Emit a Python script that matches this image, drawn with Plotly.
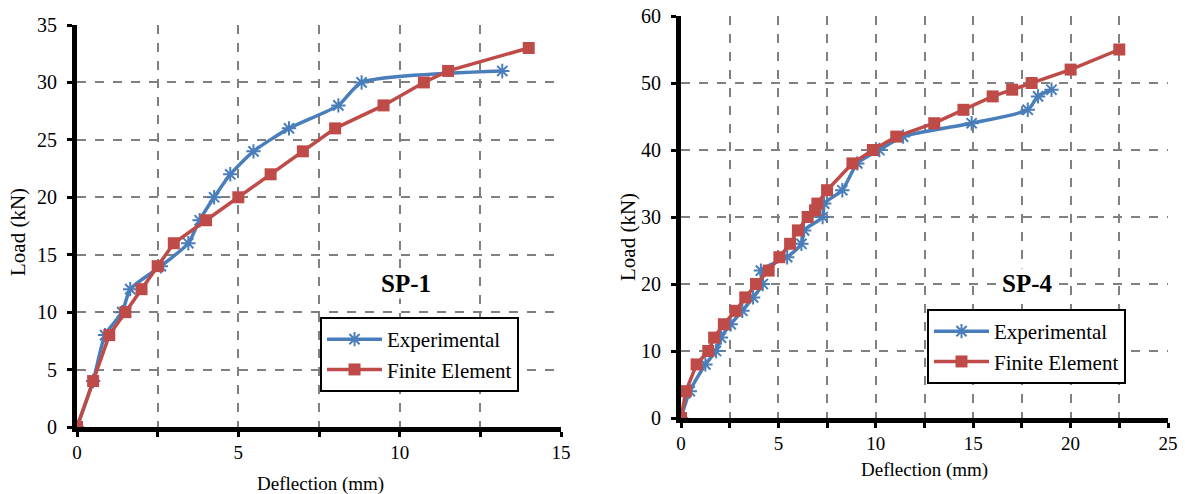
import plotly.graph_objects as go

# SP-1 data
sp1_exp_x = [0, 0.5, 0.87, 1.4, 1.65, 2.6, 3.45, 3.8, 4.25, 4.75, 5.47, 6.57, 8.1, 8.82, 13.18]
sp1_exp_y = [0, 4, 8, 10, 12, 14, 16, 18, 20, 22, 24, 26, 28, 30, 31]
sp1_fe_x = [0, 0.5, 1, 1.5, 2, 2.5, 3, 4, 5, 6, 7, 8, 9.5, 10.75, 11.5, 14]
sp1_fe_y = [0, 4, 8, 10, 12, 14, 16, 18, 20, 22, 24, 26, 28, 30, 31, 33]

# SP-4 data
sp4_exp_x = [0, 0.45, 1.25, 1.8, 2.05, 2.55, 3.15, 3.7, 4.2, 4.1, 5.45, 6.18, 6.32, 7.27, 7.35,
             8.28, 9.05, 10.18, 11.4, 14.92, 17.8, 18.33, 19.02]
sp4_exp_y = [0, 4, 8, 10, 12, 14, 16, 18, 20, 22, 24, 26, 28, 30, 32, 34, 38, 40, 42, 44, 46, 48, 49]
sp4_fe_x = [0, 0.25, 0.8, 1.4, 1.7, 2.2, 2.8, 3.3, 3.85, 4.5, 5.05, 5.6, 6.0, 6.5, 6.88, 7.0, 7.5,
            8.8, 9.85, 11.05, 13.0, 14.5, 16.0, 17.0, 18.0, 20.0, 22.5]
sp4_fe_y = [0, 4, 8, 10, 12, 14, 16, 18, 20, 22, 24, 26, 28, 30, 31, 32, 34, 38, 40, 42, 44, 46,
            48, 49, 50, 52, 55]

series_names = ["Experimental", "Finite Element"]
panel_labels = ["SP-1", "SP-4"]
x_title = "Deflection (mm)"
y_title = "Load (kN)"

BLUE = "#4a7ebb"
RED = "#be4b48"
GRID = "#808080"
FONT = "Liberation Serif"

W, H = 1185, 494

fig = go.Figure()

def add_pair(ex, ey, fx, fy, xa, ya, leg):
    fig.add_trace(go.Scatter(
        x=ex, y=ey, mode="lines+markers", name=series_names[0],
        xaxis=xa, yaxis=ya, legend=leg,
        line=dict(color=BLUE, width=3.5, shape="spline", smoothing=0.6),
        marker=dict(symbol="asterisk", size=12, line=dict(color=BLUE, width=2), color=BLUE),
    ))
    fig.add_trace(go.Scatter(
        x=fx, y=fy, mode="lines+markers", name=series_names[1],
        xaxis=xa, yaxis=ya, legend=leg,
        line=dict(color=RED, width=3.5),
        marker=dict(symbol="square", size=12, color=RED),
    ))

add_pair(sp1_exp_x, sp1_exp_y, sp1_fe_x, sp1_fe_y, "x", "y", "legend")
add_pair(sp4_exp_x, sp4_exp_y, sp4_fe_x, sp4_fe_y, "x2", "y2", "legend2")

def px_x(p):
    return p / W

def px_y(p):
    return (H - p) / H

common_x = dict(
    showline=True, linecolor="black", linewidth=5, zeroline=False, automargin=False,
    showgrid=True, gridcolor=GRID, griddash="dash", gridwidth=2,
    ticks="outside", ticklen=5, tickwidth=3, tickcolor="black",
    tickfont=dict(family=FONT, size=19, color="black"),
    minor=dict(dtick=2.5, showgrid=True, gridcolor=GRID, griddash="dash", gridwidth=2,
               ticks="outside", ticklen=5, tickwidth=3, tickcolor="black"),
    dtick=5, tick0=0, ticklabelstandoff=-1,
)
common_y = dict(
    showline=True, linecolor="black", linewidth=5, zeroline=False, automargin=False,
    showgrid=True, gridcolor=GRID, griddash="dash", gridwidth=2,
    ticks="outside", ticklen=5, tickwidth=3, tickcolor="black",
    tickfont=dict(family=FONT, size=20, color="black"),
    ticklabelstandoff=6,
)

legend_common = dict(xanchor="left", yanchor="top", bgcolor="white", bordercolor="black",
                     borderwidth=2, itemwidth=55, font=dict(family=FONT, size=21, color="black"))

fig.update_layout(
    width=W, height=H,
    margin=dict(l=0, r=0, t=0, b=0, autoexpand=False),
    paper_bgcolor="white", plot_bgcolor="white",
    font=dict(family=FONT, color="black"),
    xaxis=dict(domain=[px_x(77), px_x(561)], range=[0, 15], anchor="y", **common_x),
    yaxis=dict(domain=[px_y(427), px_y(25)], range=[0, 35], dtick=5, anchor="x", **common_y),
    xaxis2=dict(domain=[px_x(681), px_x(1168)], range=[0, 25], anchor="y2", **common_x),
    yaxis2=dict(domain=[px_y(418), px_y(16)], range=[0, 60], dtick=10, anchor="x2", **common_y),
    legend=dict(x=px_x(320), y=px_y(317), **legend_common),
    legend2=dict(x=px_x(927), y=px_y(309), **legend_common),
)

annos = [
    dict(text=x_title, x=px_x(320), y=px_y(484), size=19, angle=0),
    dict(text=y_title, x=px_x(18), y=px_y(232), size=21, angle=-90),
    dict(text=x_title, x=px_x(924), y=px_y(470), size=19, angle=0),
    dict(text=y_title, x=px_x(628), y=px_y(237), size=21, angle=-90),
]
for a in annos:
    fig.add_annotation(text=a["text"], x=a["x"], y=a["y"], xref="paper", yref="paper",
                       showarrow=False, textangle=a["angle"], xanchor="center", yanchor="middle",
                       font=dict(family=FONT, size=a["size"], color="black"))

fig.add_annotation(text="<b>" + panel_labels[0] + "</b>", x=px_x(406), y=px_y(283), xref="paper", yref="paper",
                   showarrow=False, bgcolor="white", xanchor="center", yanchor="middle",
                   font=dict(family=FONT, size=25, color="black"))
fig.add_annotation(text="<b>" + panel_labels[1] + "</b>", x=px_x(1027), y=px_y(283), xref="paper", yref="paper",
                   showarrow=False, bgcolor="white", xanchor="center", yanchor="middle",
                   font=dict(family=FONT, size=25, color="black"))

fig.write_html("out.html", config={"displayModeBar": False},
               post_script="document.body.style.margin='0';document.body.style.overflow='hidden';")
